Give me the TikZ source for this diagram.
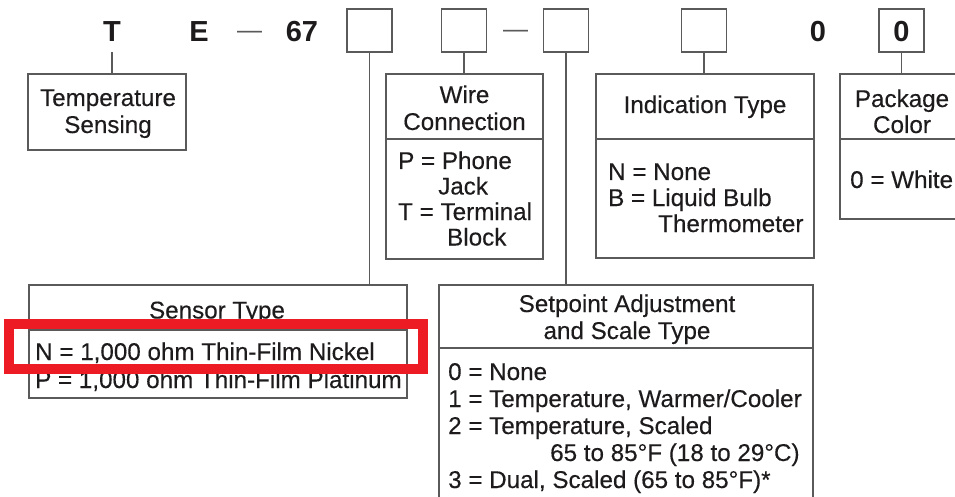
\documentclass[tikz,border=0pt]{standalone}
\usepackage{fontspec}
\setmainfont{Liberation Sans}
\newfontfamily\heavyfont{Liberation Sans}[FakeBold=0.3]
\definecolor{ink}{HTML}{1E1B1C}
\definecolor{rule}{HTML}{5A5A5A}
\definecolor{hilite}{HTML}{ED1C24}
\begin{document}
\begin{tikzpicture}[x=1pt,y=-1pt,
  txt/.style={inner sep=0, text=ink, font=\heavyfont\fontsize{24.2}{27}\selectfont},
  code/.style={inner sep=0, text=ink, font=\fontsize{29}{30}\selectfont\bfseries, anchor=base},
  dashmark/.style={inner sep=0, text=rule, font=\fontsize{25}{30}\selectfont, anchor=base},
  cbox/.style={draw=rule, line width=1.3pt, minimum width=45pt, minimum height=43pt, inner sep=0},
  panel/.style={draw=rule, line width=1.3pt, inner sep=0},
  link/.style={draw=rule, line width=1.3pt},
  redbox/.style={draw=hilite, line width=10pt}]
\useasboundingbox (0,0) rectangle (955,497);

% code line
\node[code] (tcode) at (112,42) {T};
\node[code] (ecode) at (199,42) {E};
\node[dashmark] (dash1) at (249.5,39) {—};
\node[code] (n67) at (302,42) {67};
\node[cbox] (b1) at (369.5,30.5) {};
\node[cbox] (b2) at (464,30.5) {};
\node[dashmark] (dash2) at (515.5,38) {—};
\node[cbox] (b3) at (566,30.5) {};
\node[cbox] (b4) at (704,30.5) {};
\node[code] (zero1) at (818,42) {0};
\node[cbox] (b5) at (901.5,30.5) {};
\node[code] (zero2) at (901.5,42) {0};

% panels
\node[panel, minimum width=158pt, minimum height=76pt] (ts) at (107,112) {};
\node[panel, minimum width=157pt, minimum height=185pt] (wire) at (464.5,166.5) {};
\node[panel, minimum width=218pt, minimum height=184pt] (ind) at (705,166) {};
\node[panel, minimum width=126pt, minimum height=145pt] (pkg) at (903,146.5) {};
\node[panel, minimum width=378pt, minimum height=113pt] (sensor) at (218,341.5) {};
\node[panel, minimum width=374pt, minimum height=235pt] (setp) at (626,402.5) {};

% dividers
\draw[link] (wire.west |- 0,139) -- (wire.east |- 0,139);
\draw[link] (ind.west |- 0,139) -- (ind.east |- 0,139);
\draw[link] (pkg.west |- 0,139) -- (pkg.east |- 0,139);
\draw[link] (sensor.west |- 0,330) -- (sensor.east |- 0,330);
\draw[link] (setp.west |- 0,348) -- (setp.east |- 0,348);

% connectors
\draw[link] ([yshift=-10pt]tcode.south) -- (tcode.south |- ts.north);
\draw[link] (b1.south) -- (b1.south |- sensor.north);
\draw[link] (b2.south) -- (b2.south |- wire.north);
\draw[link] (b3.south) -- (b3.south |- setp.north);
\draw[link] (b4.south) -- (b4.south |- ind.north);
\draw[link] (b5.south) -- (b5.south |- pkg.north);

% Temperature sensing
\node[txt, anchor=base] (ts1) at (108,106) {Temperature};
\node[txt, anchor=base] (ts2) at (108,133) {Sensing};

% Wire connection
\node[txt, anchor=base] (w1) at (464.5,103) {Wire};
\node[txt, anchor=base] (w2) at (464.5,130) {Connection};
\node[txt, anchor=base west] (w3) at (398,169) {P = Phone};
\node[txt, anchor=base west] (w4) at (438,194.5) {Jack};
\node[txt, anchor=base west] (w5) at (398,220) {T = Terminal};
\node[txt, anchor=base west] (w6) at (447,245.5) {Block};

% Indication type
\node[txt, anchor=base] (i1) at (705,113) {Indication Type};
\node[txt, anchor=base west] (i2) at (608,180) {N = None};
\node[txt, anchor=base west] (i3) at (608,206) {B = Liquid Bulb};
\node[txt, anchor=base west] (i4) at (658,232) {Thermometer};

% Package color
\node[txt, anchor=base] (p1) at (902,107) {Package};
\node[txt, anchor=base] (p2) at (902,133) {Color};
\node[txt, anchor=base west] (p3) at (850,188) {0 = White};

% Sensor type
\node[txt, anchor=base] (s1) at (217,318.5) {Sensor Type};
\node[txt, anchor=base west] (s2) at (35,360) {N = 1,000 ohm Thin-Film Nickel};
\node[txt, anchor=base west] (s3) at (35,388) {P = 1,000 ohm Thin-Film Platinum};

% Setpoint adjustment
\node[txt, anchor=base] (a1) at (627,312) {Setpoint Adjustment};
\node[txt, anchor=base] (a2) at (627,339) {and Scale Type};
\node[txt, anchor=base west] (a3) at (448,380) {0 = None};
\node[txt, anchor=base west] (a4) at (448,407) {1 = Temperature, Warmer/Cooler};
\node[txt, anchor=base west] (a5) at (448,434) {2 = Temperature, Scaled};
\node[txt, anchor=base west] (a6) at (550,461) {65 to 85°F (18 to 29°C)};
\node[txt, anchor=base west] (a7) at (448,488) {3 = Dual, Scaled (65 to 85°F)*};

% highlight
\draw[redbox] (9,324) rectangle (423,369);
\end{tikzpicture}
\end{document}
